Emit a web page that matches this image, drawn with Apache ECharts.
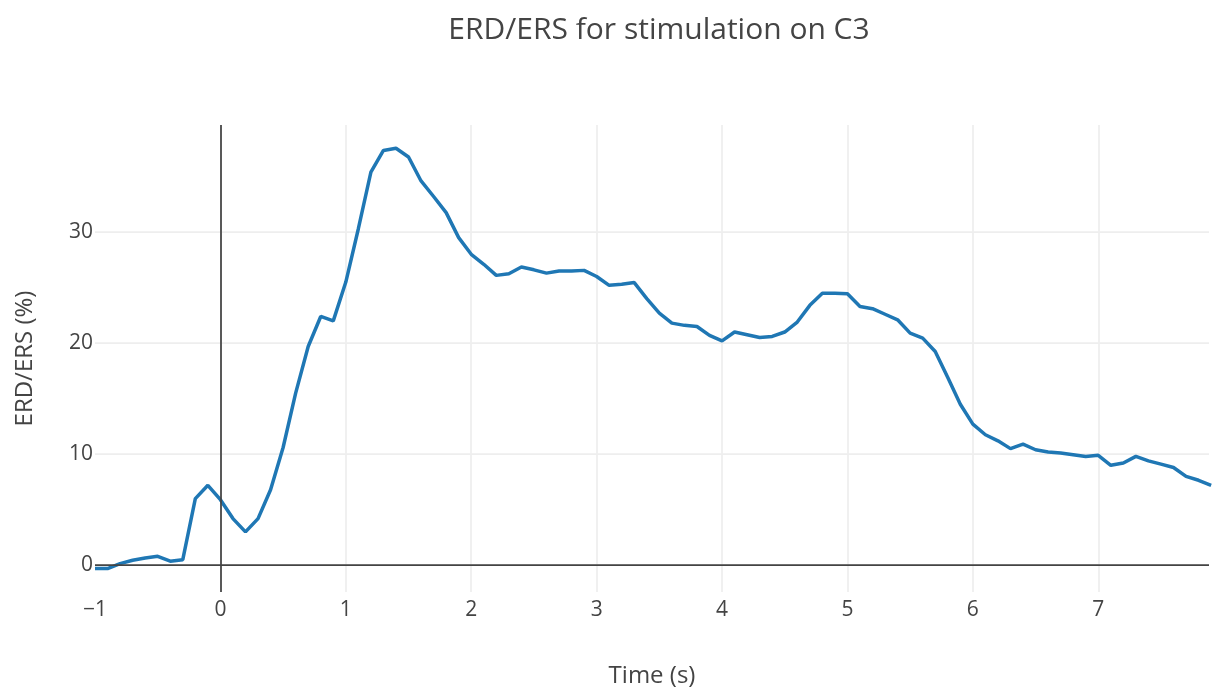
<!DOCTYPE html>
<html>
<head>
<meta charset="utf-8">
<script src="https://cdn.jsdelivr.net/npm/echarts@6/dist/echarts.min.js"></script>
<style>
  html, body { margin: 0; padding: 0; background: #fff; }
  #chart { width: 1212px; height: 693px; }
</style>
</head>
<body>
<div id="chart"></div>
<script>
// time axis (s), one sample every 0.1 s
const times = [
  -1.0, -0.9, -0.8, -0.7, -0.6, -0.5, -0.4, -0.3, -0.2, -0.1,
  0.0, 0.1, 0.2, 0.3, 0.4, 0.5, 0.6, 0.7, 0.8, 0.9,
  1.0, 1.1, 1.2, 1.3, 1.4, 1.5, 1.6, 1.7, 1.8, 1.9,
  2.0, 2.1, 2.2, 2.3, 2.4, 2.5, 2.6, 2.7, 2.8, 2.9,
  3.0, 3.1, 3.2, 3.3, 3.4, 3.5, 3.6, 3.7, 3.8, 3.9,
  4.0, 4.1, 4.2, 4.3, 4.4, 4.5, 4.6, 4.7, 4.8, 4.9,
  5.0, 5.1, 5.2, 5.3, 5.4, 5.5, 5.6, 5.7, 5.8, 5.9,
  6.0, 6.1, 6.2, 6.3, 6.4, 6.5, 6.6, 6.7, 6.8, 6.9,
  7.0, 7.1, 7.2, 7.3, 7.4, 7.5, 7.6, 7.7, 7.8, 7.9
];

// ERD/ERS (%)
const erders = [
  -0.3, -0.3, 0.15, 0.45, 0.65, 0.8, 0.36, 0.5, 6.0, 7.2,
  5.9, 4.2, 3.0, 4.2, 6.8, 10.6, 15.5, 19.7, 22.4, 22.0,
  25.5, 30.3, 35.4, 37.35, 37.55, 36.76, 34.6, 33.2, 31.75, 29.5,
  28.0, 27.1, 26.1, 26.25, 26.85, 26.6, 26.3, 26.5, 26.5, 26.55,
  26.0, 25.2, 25.3, 25.45, 24.0, 22.7, 21.8, 21.6, 21.5, 20.7,
  20.2, 21.0, 20.75, 20.5, 20.6, 21.0, 21.9, 23.4, 24.5, 24.5,
  24.45, 23.3, 23.1, 22.6, 22.1, 20.9, 20.45, 19.25, 16.9, 14.5,
  12.7, 11.75, 11.2, 10.5, 10.9, 10.4, 10.2, 10.1, 9.95, 9.8,
  9.9, 9.0, 9.2, 9.8, 9.4, 9.1, 8.8, 8.0, 7.65, 7.2
];

const xRange = [-1, 7.883];
const yRange = [-2.41, 39.64];

const myChart = echarts.init(document.getElementById('chart'));

function tickText(v, step) {
  if (Math.abs(v - Math.round(v / step) * step) > 1e-6) return '';
  return String(Math.round(v)).replace('-', '\u2212');
}

const font = '"Open Sans", "DejaVu Sans", sans-serif';

const option = {
  animation: false,
  backgroundColor: '#fff',
  title: {
    text: 'ERD/ERS for stimulation on C3',
    left: 654,
    top: 10,
    textAlign: 'center',
    textStyle: {
      fontFamily: font,
      fontSize: 30,
      fontWeight: 'normal',
      color: '#444'
    }
  },
  grid: {
    left: 95,
    right: 0,
    top: 125,
    bottom: 94
  },
  xAxis: {
    type: 'value',
    min: xRange[0],
    max: xRange[1],
    interval: 1,
    name: 'Time (s)',
    nameLocation: 'middle',
    nameGap: 72,
    nameTextStyle: { fontFamily: font, fontSize: 24, color: '#444' },
    axisLine: { show: false },
    axisTick: { show: false },
    axisLabel: {
      margin: 8,
      fontFamily: font,
      fontSize: 21,
      color: '#444',
      formatter: function (v) { return tickText(v, 1); }
    },
    splitLine: {
      show: true,
      showMinLine: false,
      showMaxLine: false,
      lineStyle: { color: '#eee', width: 1.75 }
    }
  },
  yAxis: {
    type: 'value',
    min: yRange[0],
    max: yRange[1],
    splitNumber: 4,
    name: 'ERD/ERS (%)',
    nameLocation: 'middle',
    nameGap: 58,
    nameTextStyle: { fontFamily: font, fontSize: 24, color: '#444' },
    axisLine: { show: false },
    axisTick: { show: false },
    axisLabel: {
      margin: 2,
      fontFamily: font,
      fontSize: 21,
      color: '#444',
      formatter: function (v) { return tickText(v, 10); }
    },
    splitLine: {
      show: true,
      showMinLine: false,
      showMaxLine: false,
      lineStyle: { color: '#eee', width: 1.75 }
    }
  },
  series: [
    {
      name: 'ERD/ERS',
      type: 'line',
      data: times.map((t, i) => [t, erders[i]]),
      showSymbol: false,
      symbol: 'none',
      lineStyle: { color: '#1f77b4', width: 3.5 },
      z: 3,
      markLine: {
        silent: true,
        symbol: ['none', 'none'],
        label: { show: false },
        lineStyle: { color: '#444', width: 1.75, type: 'solid' },
        data: [{ xAxis: 0 }, { yAxis: 0 }]
      }
    }
  ]
};

myChart.setOption(option);
</script>
</body>
</html>
